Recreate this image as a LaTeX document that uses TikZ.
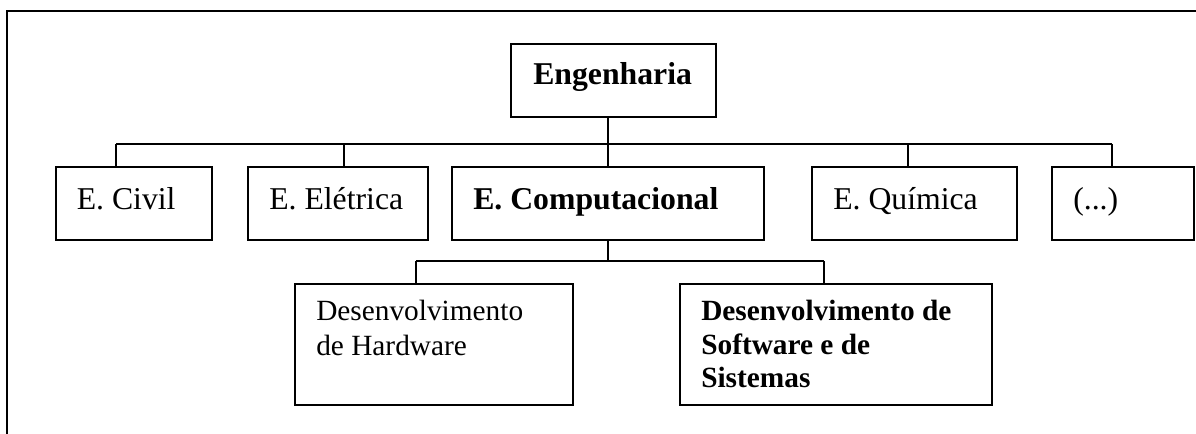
\documentclass[tikz,border=0pt]{standalone}
\usepackage{fontspec}
\setmainfont{Liberation Serif}
\begin{document}
\begin{tikzpicture}[x=0.75pt,y=-0.75pt,
  box/.style={draw, line width=1.5pt, rectangle, inner sep=0pt},
  conn/.style={line width=1.2pt},
  frameline/.style={line width=1.5pt},
  uptext/.style={font=\fontsize{23.8}{28}\selectfont, anchor=base west, inner sep=0pt},
  lowtext/.style={font=\fontsize{22}{26}\selectfont, anchor=base west, inner sep=0pt}]
\useasboundingbox (0,0) rectangle (1196,434);
% outer frame (cut at right and bottom)
\draw[frameline] (1196,11) -- (7,11) -- (7,434);
% boxes
\node[box, minimum width=205*0.75pt, minimum height=73*0.75pt] (eng) at (613.5,80.5) {};
\node[box, minimum width=156.5*0.75pt, minimum height=73*0.75pt] (civil) at (133.75,203.5) {};
\node[box, minimum width=180*0.75pt, minimum height=73*0.75pt] (eletr) at (338,203.5) {};
\node[box, minimum width=312*0.75pt, minimum height=73*0.75pt] (comp) at (608,203.5) {};
\node[box, minimum width=205*0.75pt, minimum height=73*0.75pt] (quim) at (914.5,203.5) {};
\node[box, minimum width=142*0.75pt, minimum height=73*0.75pt] (etc) at (1123,203.5) {};
\node[box, minimum width=278*0.75pt, minimum height=121*0.75pt] (hw) at (434,344.5) {};
\node[box, minimum width=312*0.75pt, minimum height=121*0.75pt] (sw) at (836,344.5) {};
% texts
\node[uptext] (engT) at (533,85) {\textbf{Engenharia}};
\node[uptext] (civilT) at (76.5,210) {E. Civil};
\node[uptext] (eletrT) at (269,210) {E. Elétrica};
\node[uptext] (compT) at (473,210) {\textbf{E. Computacional}};
\node[uptext] (quimT) at (833,210) {E. Química};
\node[uptext] (etcT) at (1073,210) {(...)};
\node[lowtext] (hwT1) at (316,321) {Desenvolvimento};
\node[lowtext] (hwT2) at (316,356) {de Hardware};
\node[lowtext] (swT1) at (701,321) {\textbf{Desenvolvimento de}};
\node[lowtext] (swT2) at (701,355) {\textbf{Software e de}};
\node[lowtext] (swT3) at (701,388) {\textbf{Sistemas}};
% first level connectors
\coordinate (bus1) at (608,144);
\coordinate (bc) at (116,144);
\coordinate (be) at (344,144);
\coordinate (bq) at (908,144);
\coordinate (bx) at (1112,144);
\draw[conn] (eng.south -| bus1) -- (bus1);
\draw[conn] (bc) -- (bx);
\draw[conn] (bc) -- (bc |- civil.north);
\draw[conn] (be) -- (be |- eletr.north);
\draw[conn] (bus1) -- (comp.north);
\draw[conn] (bq) -- (bq |- quim.north);
\draw[conn] (bx) -- (bx |- etc.north);
% second level connectors
\coordinate (bus2) at (608,261);
\coordinate (bh) at (416,261);
\coordinate (bs) at (824,261);
\draw[conn] (comp.south) -- (bus2);
\draw[conn] (bh) -- (bs);
\draw[conn] (bh) -- (bh |- hw.north);
\draw[conn] (bs) -- (bs |- sw.north);
\end{tikzpicture}
\end{document}
